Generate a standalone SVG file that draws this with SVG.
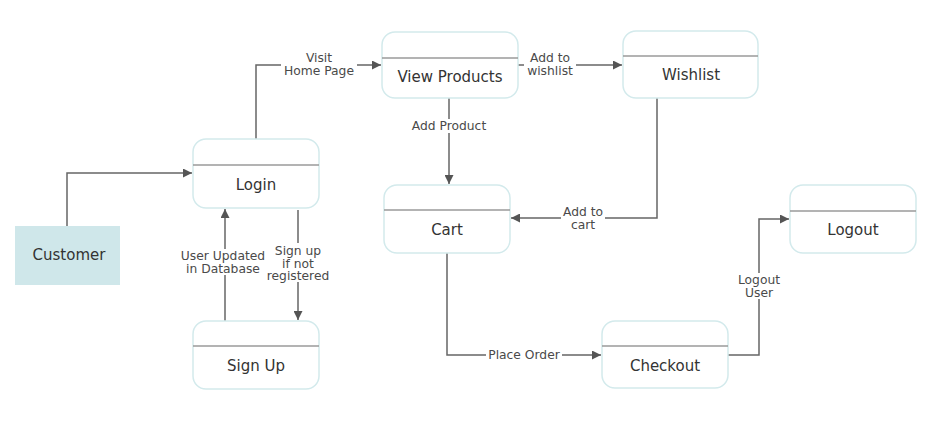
<svg xmlns="http://www.w3.org/2000/svg" width="943" height="423" viewBox="0 0 943 423">
<style>
.box{fill:#fff;stroke:#d3eaec;stroke-width:1.5}
.div{stroke:#9a9a9a;stroke-width:1.5}
.t{font-family:"DejaVu Sans","Liberation Sans",sans-serif;font-size:15px;fill:#333;text-anchor:middle}
.l{font-family:"DejaVu Sans","Liberation Sans",sans-serif;font-size:12.3px;fill:#4a4a4a;text-anchor:middle}
.c{fill:none;stroke:#666;stroke-width:1.5}
.bg{fill:#fff}
</style>
<defs>
<marker id="a" viewBox="0 0 10 10" refX="10" refY="5" markerWidth="9" markerHeight="9" markerUnits="userSpaceOnUse" orient="auto"><path d="M0,0L10,5L0,10z" fill="#555"/></marker>
</defs>
<rect width="943" height="423" fill="#fff"/>
<g id="connectors">
<path class="c" d="M67,226V173H192" marker-end="url(#a)"/>
<path class="c" d="M256,139V65H381" marker-end="url(#a)"/>
<path class="c" d="M225,321V209" marker-end="url(#a)"/>
<path class="c" d="M298,210V320" marker-end="url(#a)"/>
<path class="c" d="M518,65H622" marker-end="url(#a)"/>
<path class="c" d="M449,98V184" marker-end="url(#a)"/>
<path class="c" d="M657,98V218H511" marker-end="url(#a)"/>
<path class="c" d="M447,253V355H601" marker-end="url(#a)"/>
<path class="c" d="M728,355H759V219H789" marker-end="url(#a)"/>
<rect class="bg" x="281" y="51" width="76" height="26"/>
<text class="l" x="319" y="62">Visit<tspan x="319" dy="12.5">Home Page</tspan></text>
<rect class="bg" x="178" y="249" width="90" height="26"/>
<text class="l" x="223" y="260">User Updated<tspan x="223" dy="12.5">in Database</tspan></text>
<rect class="bg" x="266" y="243" width="66" height="39"/>
<text class="l" x="298" y="255">Sign up<tspan x="298" dy="12.5">if not</tspan><tspan x="298" dy="12.5">registered</tspan></text>
<rect class="bg" x="524" y="51" width="52" height="26"/>
<text class="l" x="550" y="62">Add to<tspan x="550" dy="12.5">wishlist</tspan></text>
<rect class="bg" x="407" y="119" width="84" height="14"/>
<text class="l" x="449" y="130">Add Product</text>
<rect class="bg" x="561" y="205" width="44" height="26"/>
<text class="l" x="583" y="216">Add to<tspan x="583" dy="12.5">cart</tspan></text>
<rect class="bg" x="486" y="348" width="76" height="14"/>
<text class="l" x="524" y="359">Place Order</text>
<rect class="bg" x="735" y="273" width="48" height="26"/>
<text class="l" x="759" y="284">Logout<tspan x="759" dy="12.5">User</tspan></text>
</g>
<g id="customer">
<rect x="15" y="226" width="105" height="59" fill="#cfe7ea"/>
<text class="t" x="69" y="260">Customer</text>
</g>
<g id="login">
<rect class="box" x="193" y="139" width="126" height="69" rx="13"/>
<line class="div" x1="193" y1="165" x2="319" y2="165"/>
<text class="t" x="256" y="190">Login</text>
</g>
<g id="signup">
<rect class="box" x="193" y="321" width="126" height="68" rx="13"/>
<line class="div" x1="193" y1="346" x2="319" y2="346"/>
<text class="t" x="256" y="371">Sign Up</text>
</g>
<g id="viewproducts">
<rect class="box" x="382" y="32" width="136" height="66" rx="13"/>
<line class="div" x1="382" y1="58" x2="518" y2="58"/>
<text class="t" x="450" y="82">View Products</text>
</g>
<g id="wishlist">
<rect class="box" x="623" y="31" width="135" height="67" rx="13"/>
<line class="div" x1="623" y1="56" x2="758" y2="56"/>
<text class="t" x="691" y="80">Wishlist</text>
</g>
<g id="cart">
<rect class="box" x="384" y="185" width="126" height="68" rx="13"/>
<line class="div" x1="384" y1="210" x2="510" y2="210"/>
<text class="t" x="447" y="235">Cart</text>
</g>
<g id="checkout">
<rect class="box" x="602" y="321" width="126" height="67" rx="13"/>
<line class="div" x1="602" y1="346" x2="728" y2="346"/>
<text class="t" x="665" y="371">Checkout</text>
</g>
<g id="logout">
<rect class="box" x="790" y="185" width="126" height="68" rx="13"/>
<line class="div" x1="790" y1="211" x2="916" y2="211"/>
<text class="t" x="853" y="235">Logout</text>
</g>
</svg>
